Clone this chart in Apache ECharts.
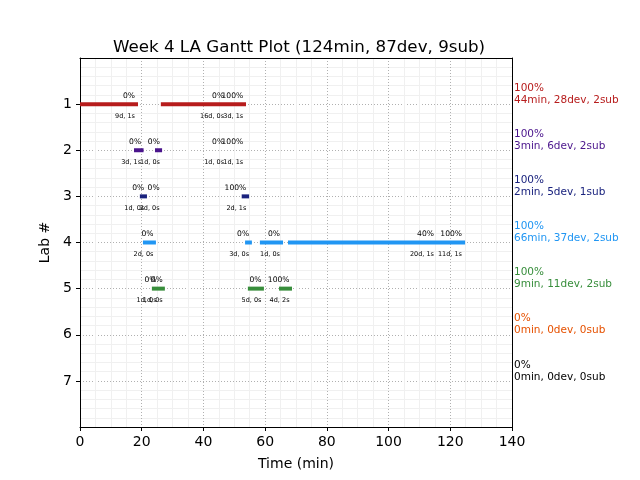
<!DOCTYPE html>
<html><head><meta charset="utf-8">
<script src="https://cdn.jsdelivr.net/npm/echarts@6/dist/echarts.min.js"></script>
<style>html,body{margin:0;padding:0;background:#fff}#c{width:640px;height:480px}</style>
</head><body><div id="c"></div>
<script>
// ---- data ----
const labNames = ['1', '2', '3', '4', '5', '6', '7'];
const labColors = ['#b71c1c', '#4a148c', '#1a237e', '#2196f3', '#388e3c', '#e65100', '#000000'];
const xTicks = [0, 20, 40, 60, 80, 100, 120, 140];

// bars: [start min, end min]
const lab1Bars = [[0, 18.8], [26.2, 53.8]];
const lab2Bars = [[17.5, 20.6], [24.3, 26.6]];
const lab3Bars = [[19.4, 21.7], [52.4, 54.8]];
const lab4Bars = [[20.4, 24.6], [53.5, 55.7], [58.3, 65.8], [67.4, 124.8]];
const lab5Bars = [[23.3, 27.5], [54.4, 59.6], [64.5, 68.7]];
const lab6Bars = [];
const lab7Bars = [];

// labels: [x (min), score, days/subs]
const lab1Notes = [[17.8, '0%', '9d, 1s'], [46.7, '0%', '16d, 0s'], [52.9, '100%', '3d, 1s']];
const lab2Notes = [[19.8, '0%', '3d, 1s'], [25.9, '0%', '1d, 0s'], [46.7, '0%', '1d, 0s'], [52.9, '100%', '1d, 1s']];
const lab3Notes = [[20.8, '0%', '1d, 0s'], [25.8, '0%', '2d, 0s'], [53.9, '100%', '2d, 1s']];
const lab4Notes = [[23.8, '0%', '2d, 0s'], [54.8, '0%', '3d, 0s'], [64.8, '0%', '1d, 0s'], [114.7, '40%', '20d, 1s'], [123.8, '100%', '11d, 1s']];
const lab5Notes = [[24.8, '0%', '1d, 0s'], [26.8, '0%', '1d, 0s'], [58.8, '0%', '5d, 0s'], [67.9, '100%', '4d, 2s']];
const lab6Notes = [];
const lab7Notes = [];

const summaryPct = ['100%', '100%', '100%', '100%', '100%', '0%', '0%'];
const summaryText = ['44min, 28dev, 2sub', '3min, 6dev, 2sub', '2min, 5dev, 1sub', '66min, 37dev, 2sub', '9min, 11dev, 2sub', '0min, 0dev, 0sub', '0min, 0dev, 0sub'];

const titleText = 'Week 4 LA Gantt Plot (124min, 87dev, 9sub)';

// ---- build ----
const allBars = [lab1Bars, lab2Bars, lab3Bars, lab4Bars, lab5Bars, lab6Bars, lab7Bars];
const allNotes = [lab1Notes, lab2Notes, lab3Notes, lab4Notes, lab5Notes, lab6Notes, lab7Notes];

const barData = [];
allBars.forEach((bars, i) => bars.forEach(b => barData.push([b[0], b[1], i + 1, i])));

const pctData = [], subData = [];
allNotes.forEach((notes, i) => notes.forEach(n => {
  pctData.push({ value: [n[0], i + 1], name: n[1] });
  subData.push({ value: [n[0], i + 1], name: n[2] });
}));

const sumData = labNames.map((n, i) => ({
  value: [140, i + 1],
  label: { color: labColors[i] },
  name: summaryPct[i] + '\n' + summaryText[i]
}));

const FONT = 'DejaVu Sans';
const frameAxis = {
  axisLine: { show: true, onZero: false, lineStyle: { color: '#000', width: 1 } },
  axisTick: { show: false }, axisLabel: { show: false },
  splitLine: { show: false }, minorSplitLine: { show: false }
};
const chart = echarts.init(document.getElementById('c'), null, { renderer: 'canvas' });
chart.setOption({
  animation: false,
  backgroundColor: '#fff',
  title: {
    text: titleText, left: 294, top: 34, textAlign: 'center',
    textStyle: { fontFamily: FONT, fontSize: 16.7, fontWeight: 'normal', color: '#000' }
  },
  grid: { left: 80, top: 58, width: 432, height: 369, show: false },
  xAxis: [{
    type: 'value', min: 0, max: 140, interval: 20, position: 'bottom',
    name: 'Time (min)', nameLocation: 'middle', nameGap: 30,
    nameTextStyle: { fontFamily: FONT, fontSize: 14, color: '#000' },
    axisLine: { show: true, onZero: false, lineStyle: { color: '#000', width: 1 } },
    axisTick: { show: true, length: 4, lineStyle: { color: '#000' } },
    axisLabel: { fontFamily: FONT, fontSize: 14, color: '#000', margin: 8, formatter: v => xTicks.includes(v) ? String(v) : '' },
    splitLine: { show: true, lineStyle: { color: '#b0b0b0', type: [1, 2], width: 1 } },
    minorTick: { show: false, splitNumber: 4 },
    minorSplitLine: { show: true, lineStyle: { color: '#f0f0f0', width: 1 } }
  }, Object.assign({ type: 'value', min: 0, max: 140, position: 'top' }, frameAxis)],
  yAxis: [{
    type: 'value', min: 0, max: 8, interval: 1, inverse: true, position: 'left',
    name: 'Lab #', nameLocation: 'middle', nameGap: 21, nameRotate: 90,
    nameTextStyle: { fontFamily: FONT, fontSize: 14, color: '#000' },
    axisLine: { show: true, onZero: false, lineStyle: { color: '#000', width: 1 } },
    axisTick: { show: true, length: 4, lineStyle: { color: '#000' }, customValues: [1, 2, 3, 4, 5, 6, 7] },
    axisLabel: { fontFamily: FONT, fontSize: 14, color: '#000', margin: 8, customValues: [1, 2, 3, 4, 5, 6, 7],
      formatter: v => (v >= 1 && v <= 7) ? labNames[v - 1] : '' },
    splitLine: { show: true, lineStyle: { color: '#b0b0b0', type: [1, 2], width: 1 } },
    minorTick: { show: false, splitNumber: 5 },
    minorSplitLine: { show: true, lineStyle: { color: '#f0f0f0', width: 1 } }
  }, Object.assign({ type: 'value', min: 0, max: 8, inverse: true, position: 'right' }, frameAxis)],
  series: [
    {
      type: 'custom', data: barData, encode: { x: [0, 1], y: 2 },
      renderItem: (params, api) => {
        const s = api.coord([api.value(0), api.value(2)]);
        const e = api.coord([api.value(1), api.value(2)]);
        return { type: 'rect', shape: { x: s[0], y: s[1] - 2, width: e[0] - s[0], height: 4 },
          style: { fill: labColors[api.value(3)] } };
      }
    },
    {
      type: 'scatter', data: pctData, symbolSize: 0, silent: true, itemStyle: { opacity: 1 },
      label: { show: true, position: 'inside', align: 'right', verticalAlign: 'middle', offset: [0, -8.5],
        formatter: p => p.name, fontFamily: FONT, fontSize: 7.6, color: '#000' }
    },
    {
      type: 'scatter', data: subData, symbolSize: 0, silent: true, itemStyle: { opacity: 1 },
      label: { show: true, position: 'inside', align: 'right', verticalAlign: 'middle', offset: [0, 12],
        formatter: p => p.name, fontFamily: FONT, fontSize: 6.5, color: '#000' }
    },
    {
      type: 'scatter', data: sumData, symbolSize: 0, silent: true, itemStyle: { opacity: 1 },
      label: { show: true, position: 'inside', align: 'left', verticalAlign: 'middle', offset: [2, -10],
        lineHeight: 12, formatter: p => p.name, fontFamily: FONT, fontSize: 10.5 }
    }
  ]
});
</script></body></html>
